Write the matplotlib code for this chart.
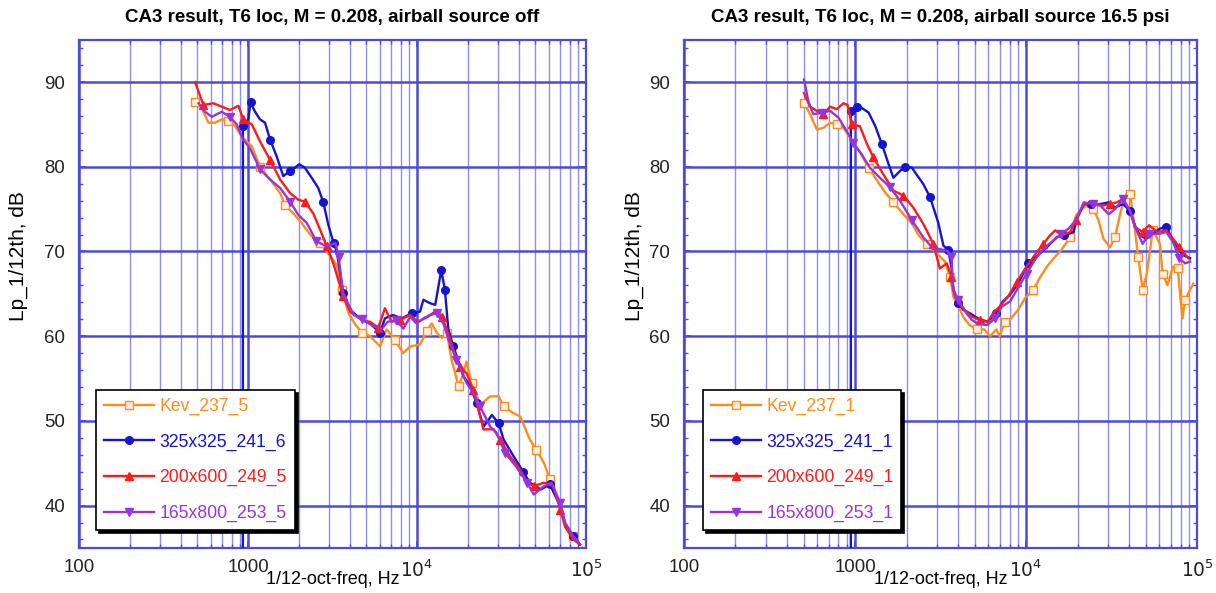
import numpy as np
import matplotlib.pyplot as plt
from matplotlib.ticker import FixedLocator, MultipleLocator, LogLocator, NullFormatter

plt.rcParams['font.family'] = ['Liberation Sans', 'DejaVu Sans']

# ---- left panel: airball source off ----
L_kev_f = [486, 532, 583, 637, 699, 764, 837, 916, 1053, 1177, 1350, 1548, 1650, 1850, 2070, 2330, 2664,
           2980, 3350, 3580, 3930, 4300, 4720, 5270, 6040, 6600, 7400, 8260, 9100, 10400, 11400, 12200,
           13100, 14000, 15000, 16000, 17600, 18800, 19600, 21000, 23600, 27100, 30400, 32500, 37300,
           40800, 46500, 50800, 56400, 61000, 70400, 76000, 84000, 90000]
L_kev_v = [87.7, 86.9, 85.2, 85.2, 85.6, 85.4, 84.8, 83.6, 82.4, 80.0, 78.5, 76.9, 75.5, 74.5, 73.4, 72.0, 71.0,
           69.8, 68.4, 65.5, 62.7, 61.4, 60.4, 60.0, 58.8, 60.8, 59.6, 58.0, 58.8, 59.0, 60.6, 61.5,
           60.4, 59.8, 60.4, 57.2, 54.1, 55.6, 57.0, 54.5, 51.9, 52.9, 52.9, 51.7, 50.9,
           50.5, 47.8, 46.6, 45.0, 43.1, 39.9, 37.5, 36.4, 35.6]

L_325_f = [932, 932, 1003, 1034, 1100, 1177, 1260, 1350, 1478, 1615, 1771, 1895, 2007, 2165, 2380, 2600, 2780,
           2980, 3205, 3350, 3655, 4016, 4720, 5270, 6040, 6450, 7200, 8100, 9300, 10400, 10900, 11900,
           12800, 13900, 14600, 15300, 16400, 18800, 20600, 22500, 24700, 27700, 30400, 32500, 37300,
           42400, 46500, 54000, 61000, 70400, 75000, 84000, 92000]
L_325_v = [20, 84.8, 85.6, 87.6, 86.5, 85.6, 85.2, 83.2, 81.2, 78.9, 79.5, 79.9, 80.3, 79.9, 78.7, 77.5, 75.9,
           73.2, 71.0, 70.0, 65.1, 63.1, 61.9, 61.5, 60.4, 62.1, 62.5, 62.1, 62.7, 62.9, 64.3, 63.9,
           63.7, 67.8, 65.5, 60.8, 58.8, 55.3, 54.1, 52.1, 49.3, 50.7, 49.7, 47.8, 45.8,
           44.0, 42.7, 41.9, 42.5, 39.9, 37.9, 36.4, 35.4]

L_200_f = [486, 544, 624, 699, 781, 877, 936, 1053, 1177, 1350, 1548, 1771, 1986, 2165, 2430, 2664, 2925,
           3205, 3655, 4016, 4720, 5270, 5900, 6450, 7060, 7920, 9100, 10100, 11630, 13100, 14000, 15000,
           16400, 17950, 19660, 21500, 24700, 28400, 31000, 35600, 40800, 44800, 49000, 56400, 64000,
           70400, 75000, 84000, 92000]
L_200_v = [90.0, 87.3, 87.5, 87.1, 86.7, 87.2, 85.6, 85.0, 83.0, 80.8, 78.5, 76.9, 76.1, 75.9, 74.5, 72.6, 70.6,
           68.5, 64.7, 62.9, 61.9, 61.7, 61.0, 63.3, 61.7, 61.9, 62.5, 61.7, 62.3, 63.1, 62.3, 60.8,
           58.4, 56.4, 55.6, 53.7, 49.0, 49.0, 47.8, 45.8, 44.2, 42.7, 42.3, 42.7, 42.3,
           39.5, 37.5, 36.0, 35.4]

L_165_f = [510, 556, 610, 699, 781, 857, 936, 1025, 1177, 1350, 1548, 1771, 1986, 2220, 2540, 2925, 3290,
           3430, 3655, 4220, 4720, 5500, 6140, 6700, 7530, 8300, 9100, 9900, 10900, 11900, 13100, 14300,
           15600, 17100, 19600, 21500, 23600, 27100, 29500, 33200, 38600, 44800, 49000, 56400, 62300,
           70400, 75000, 84000, 90000]
L_165_v = [87.5, 86.5, 85.9, 86.5, 85.9, 85.0, 83.2, 82.2, 79.7, 78.5, 77.5, 75.9, 74.3, 73.4, 71.2, 70.6, 71.0,
           69.4, 65.0, 62.5, 62.0, 61.2, 60.8, 61.7, 61.9, 60.9, 62.3, 61.5, 62.1, 62.5, 62.7, 61.5,
           59.2, 57.2, 54.5, 53.3, 51.7, 49.3, 48.6, 46.2, 44.6, 42.7, 41.3, 42.3, 42.7,
           40.3, 38.0, 36.4, 35.6]

# ---- right panel: airball source 16.5 psi ----
R_kev_f = [503, 546, 598, 653, 715, 781, 855, 957, 1067, 1200, 1342, 1495, 1675, 1916, 2150, 2353, 2628,
           3000, 3355, 3600, 3750, 4020, 4290, 4620, 5140, 5700, 6160, 6700, 7010, 7500, 8170, 8970,
           9850, 11030, 12100, 13220, 14500, 16100, 18100, 19600, 22300, 24700, 26500, 28300, 31000,
           33100, 35800, 38600, 40500, 42300, 45200, 48000, 50800, 55000, 60600, 62800, 67100, 72300,
           77000, 82000, 85000, 91000, 95000]
R_kev_v = [87.5, 86.2, 84.4, 84.6, 85.2, 85.0, 84.6, 83.2, 81.7, 79.9, 78.4, 77.0, 75.8, 74.4, 73.3, 71.9, 70.9,
           69.8, 68.8, 67.0, 64.7, 63.5, 62.3, 61.4, 60.8, 60.8, 60.0, 60.8, 60.0, 61.7, 62.1, 63.1,
           64.5, 65.5, 67.0, 68.2, 69.2, 70.2, 71.7, 74.3, 75.4, 75.0, 73.7, 71.5, 70.5,
           71.7, 74.8, 76.8, 76.8, 74.1, 69.4, 65.5, 67.4, 72.5, 70.9, 67.4, 66.0, 68.2,
           68.0, 62.1, 64.3, 65.5, 66.2]

R_325_f = [945, 945, 1026, 1067, 1200, 1313, 1434, 1571, 1675, 1831, 1960, 2150, 2286, 2500, 2746, 3065, 3285,
           3500, 3660, 3750, 4020, 4290, 4700, 5230, 5950, 6700, 7300, 8060, 8970, 10300, 11800, 13220,
           15100, 16740, 19000, 19600, 21800, 24000, 27200, 30400, 33100, 36900, 40500, 43200, 46300,
           50400, 55000, 60600, 66000, 70700, 75600, 82000, 91000]
R_325_v = [20, 86.6, 87.0, 87.1, 86.4, 84.8, 82.7, 80.3, 78.7, 79.5, 80.0, 79.9, 79.1, 78.0, 76.4, 73.4, 70.7,
           70.2, 68.2, 65.5, 63.9, 63.1, 62.7, 62.1, 61.7, 62.7, 64.1, 64.9, 66.2, 68.6, 69.6, 70.5,
           71.7, 71.9, 72.3, 73.7, 75.6, 75.6, 75.6, 75.8, 75.2, 75.6, 74.8, 73.1, 71.9,
           71.5, 72.1, 72.7, 72.9, 71.7, 70.7, 69.6, 69.2]

R_200_f = [503, 546, 598, 653, 715, 781, 855, 904, 957, 1067, 1173, 1280, 1464, 1675, 1916, 2186, 2500,
           2870, 3130, 3440, 3660, 3840, 4180, 4820, 5360, 5950, 6420, 7010, 7860, 8810, 10060, 11250,
           12600, 13800, 14800, 16100, 18100, 19600, 21700, 24700, 27800, 31000, 33900, 36900, 40500,
           43200, 48000, 52300, 58400, 66000, 72300, 78800, 88700]
R_200_v = [88.7, 87.1, 86.6, 86.2, 87.1, 86.8, 87.5, 87.3, 85.0, 84.8, 82.7, 81.1, 79.1, 77.2, 76.6, 75.2, 73.3,
           70.9, 68.0, 68.6, 67.0, 64.7, 63.5, 62.3, 61.9, 61.7, 62.7, 63.5, 64.7, 66.4, 68.2, 69.6,
           70.9, 71.9, 72.5, 71.9, 72.3, 73.7, 75.6, 75.8, 75.4, 75.6, 75.8, 76.2, 74.8,
           72.9, 72.3, 73.1, 72.3, 72.5, 71.5, 70.5, 69.2]

R_165_f = [503, 534, 570, 638, 715, 800, 894, 977, 1092, 1220, 1398, 1599, 1831, 2150, 2500, 2870, 3130,
           3500, 3660, 3750, 4020, 4480, 4820, 5230, 5900, 6590, 7220, 8060, 8970, 10060, 11600, 12900,
           14500, 16100, 17700, 19600, 21700, 24700, 27200, 30400, 33100, 36900, 40500, 44200, 48000,
           52300, 60600, 66000, 72300, 78800, 85000, 91000]
R_165_v = [90.3, 87.7, 86.2, 86.4, 86.6, 85.8, 84.2, 82.8, 81.5, 79.9, 78.7, 77.6, 76.0, 73.7, 71.7, 70.3, 70.3,
           70.0, 69.4, 65.5, 64.3, 62.7, 61.9, 61.5, 61.3, 62.1, 63.5, 64.1, 65.7, 67.4, 69.4, 70.5,
           71.3, 72.1, 72.7, 73.7, 75.8, 75.6, 75.4, 74.4, 75.0, 76.2, 74.8, 72.5, 70.9,
           72.1, 72.1, 72.3, 71.1, 69.2, 68.6, 68.8]

titles = ['CA3 result, T6 loc, M = 0.208, airball source off',
          'CA3 result, T6 loc, M = 0.208, airball source 16.5 psi']
labels_left = ['Kev_237_5', '325x325_241_6', '200x600_249_5', '165x800_253_5']
labels_right = ['Kev_237_1', '325x325_241_1', '200x600_249_1', '165x800_253_1']

colors = ['#ff8c1a', '#1414d2', '#ff1a1a', '#9933dd']
markers = ['s', 'o', '^', 'v']
grid_c = '#4a4ae0'
minor_c = '#8f8ff0'

fig = plt.figure(figsize=(12.16, 5.93), dpi=100)
ax1 = fig.add_axes([0.065, 0.076, 0.417, 0.857])
ax2 = fig.add_axes([0.5625, 0.076, 0.422, 0.857])

panels = [
    (ax1, [(L_kev_f, L_kev_v), (L_325_f, L_325_v), (L_200_f, L_200_v), (L_165_f, L_165_v)],
     labels_left, titles[0], -0.10, 0.034),
    (ax2, [(R_kev_f, R_kev_v), (R_325_f, R_325_v), (R_200_f, R_200_v), (R_165_f, R_165_v)],
     labels_right, titles[1], -0.078, 0.037),
]

for ax, series, labels, title, ylab_x, leg_x in panels:
    ax.set_xscale('log')
    ax.set_xlim(100, 1e5)
    ax.set_ylim(35, 95)

    # grid first so data sits on top
    for d in [100, 1000, 1e4, 1e5]:
        ax.axvline(d, color=grid_c, lw=1.8, zorder=1)
    for d in [100, 1000, 1e4]:
        for k in range(2, 10):
            ax.axvline(d * k, color=minor_c, lw=1.0, zorder=1)
    for y in range(40, 91, 10):
        ax.axhline(y, color=grid_c, lw=1.8, zorder=1)

    for i, (f, v) in enumerate(series):
        mfc = '#fff0dd' if i == 0 else colors[i]
        ax.plot(f, v, color=colors[i], lw=1.7, marker=markers[i], ms=5.5, mfc=mfc, mec=colors[i],
                markevery=(0.02 * i, 0.07), label=labels[i], zorder=3 + i * 0.1)

    ax.xaxis.set_major_locator(FixedLocator([100, 1000, 1e4, 1e5]))
    ax.set_xticklabels(['100', '1000', '$10^4$', '$10^5$'])
    ax.xaxis.set_minor_locator(LogLocator(base=10, subs=range(2, 10)))
    ax.xaxis.set_minor_formatter(NullFormatter())
    ax.yaxis.set_major_locator(MultipleLocator(10))
    ax.yaxis.set_minor_locator(MultipleLocator(2))
    ax.tick_params(which='both', direction='in', top=True, right=True, color=grid_c,
                   labelsize=13.4, labelcolor='#222222')
    ax.tick_params(which='major', length=5, width=1.2)
    ax.tick_params(which='minor', length=3, width=1.0)
    ax.tick_params(axis='x', pad=8)
    ax.tick_params(axis='y', pad=10)
    for s in ax.spines.values():
        s.set_color(grid_c)
        s.set_linewidth(1.6)

    ax.set_title(title, fontsize=13.5, fontweight='bold', pad=13)
    ax.set_xlabel('1/12-oct-freq, Hz', fontsize=13, labelpad=-7)
    ax.set_ylabel('Lp_1/12th, dB', fontsize=15)
    ax.yaxis.set_label_coords(ylab_x, 0.575)

    leg = ax.legend(loc='upper left', bbox_to_anchor=(leg_x, 0.311), borderaxespad=0, fontsize=12.7,
                    frameon=True, fancybox=False, shadow={'color': 'black', 'alpha': 1.0},
                    edgecolor='black', handlelength=2.85, labelspacing=1.05, borderpad=0.45,
                    handletextpad=0.28, labelcolor='linecolor')
    leg.get_frame().set_linewidth(1.2)
    leg.set_zorder(10)

fig.savefig('out.png', dpi=100)
